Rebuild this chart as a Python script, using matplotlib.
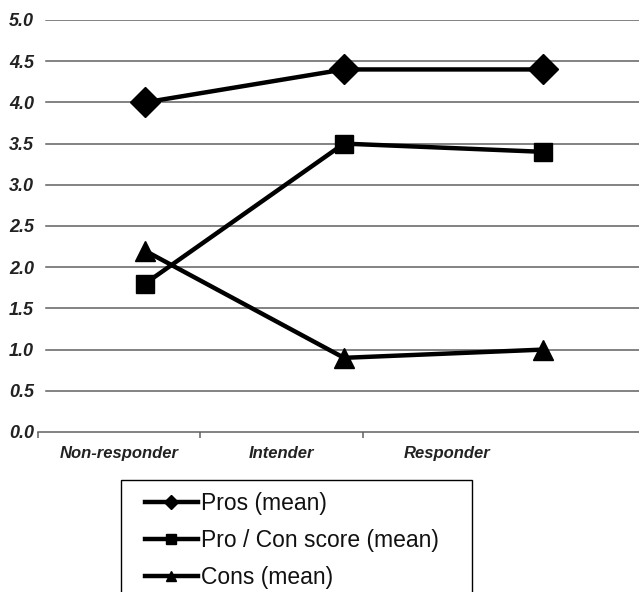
import matplotlib
matplotlib.use("Agg")
import matplotlib.pyplot as plt
from matplotlib.patches import Rectangle

categories = ["Non-responder", "Intender", "Responder"]
pros = [4.0, 4.4, 4.4]
score = [1.8, 3.5, 3.4]
cons = [2.2, 0.9, 1.0]

plt.rcParams['font.family'] = ['Liberation Sans', 'DejaVu Sans']

W, H = 639, 592
fig = plt.figure(figsize=(W / 100, H / 100), dpi=100)

# axes frame in pixels: left 38, right 639, top 20 (5.0), bottom 432 (0.0)
ax = fig.add_axes([38 / W, 1 - 432 / H, 1 - 38 / W, (432 - 20) / H])

# markers sit at pixels 145, 343, 543 -> data x 0, 1, 2
px0, step = 145, 199
to_x = lambda p: (p - px0) / step
ax.set_xlim(to_x(38), to_x(639))
ax.set_ylim(0, 5)

for v in [0.5 * i for i in range(1, 11)]:
    ax.axhline(v, xmin=8 / 601, xmax=1, color='#606060', lw=1.1, zorder=1)

xs = list(range(len(categories)))
ax.plot(xs, pros, color='black', lw=3.2, marker='D', ms=15, zorder=3,
        label='Pros (mean)')
ax.plot(xs, score, color='black', lw=3.2, marker='s', ms=13, zorder=3,
        label='Pro / Con score (mean)')
ax.plot(xs, cons, color='black', lw=3.2, marker='^', ms=14, zorder=3,
        label='Cons (mean)')

for s in ['left', 'right', 'top']:
    ax.spines[s].set_visible(False)
ax.spines['bottom'].set_color('#606060')
ax.spines['bottom'].set_linewidth(1.1)

# category boundaries and labels as drawn in the source
ax.set_xticks([to_x(38.5), to_x(200), to_x(363)])
ax.set_xticklabels([])
ax.tick_params(axis='x', direction='out', length=4, color='#606060', width=1.1)
ax.set_xticks([to_x(119), to_x(281), to_x(447)], minor=True)
ax.set_xticklabels(categories, minor=True, fontsize=12, fontweight='bold',
                   fontstyle='italic', color='#222222')
ax.tick_params(axis='x', which='minor', length=0, pad=10)

ax.set_yticks([0.5 * i for i in range(11)])
ax.set_yticklabels([f"{0.5 * i:.1f}" for i in range(11)], fontsize=13,
                   fontweight='bold', fontstyle='italic', color='#222222')
ax.tick_params(axis='y', length=0, pad=3)

leg = fig.legend(loc='upper left', bbox_to_anchor=(145 / W, 1 - 492 / H),
                 fontsize=16.5, frameon=False, handlelength=2.3,
                 handletextpad=0.15, borderpad=0, borderaxespad=0,
                 labelspacing=0.62, markerscale=0.5)
for t in leg.get_texts():
    t.set_color('#111111')

# legend box, cut off by the bottom edge as in the source
fig.add_artist(Rectangle((121 / W, 1 - 610 / H), (472 - 121) / W, 130 / H,
                         transform=fig.transFigure, fill=False,
                         edgecolor='black', lw=1.0))

fig.savefig("out.png", dpi=100)
